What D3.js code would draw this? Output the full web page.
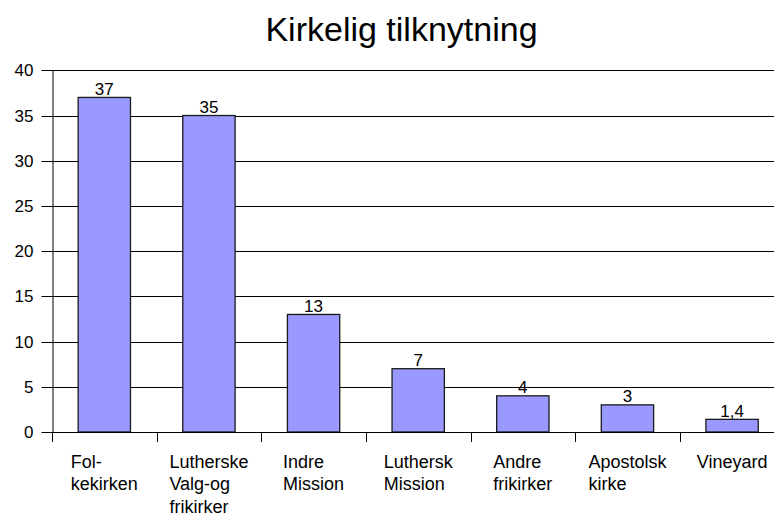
<!DOCTYPE html>
<html>
<head>
<meta charset="utf-8">
<script src="https://cdn.jsdelivr.net/npm/d3@7"></script>
<style>
  body { margin: 0; background: #fff; }
  svg { display: block; font-family: "Liberation Sans", Arial, sans-serif; }
</style>
</head>
<body>
<div id="chart"></div>
<script>
var categories = [
    ["Fol-", "kekirken"],
    ["Lutherske", "Valg-og", "frikirker"],
    ["Indre", "Mission"],
    ["Luthersk", "Mission"],
    ["Andre", "frikirker"],
    ["Apostolsk", "kirke"],
    ["Vineyard"]
];
var values = [37, 35, 13, 7, 4, 3, 1.4];
var yTicks = [0, 5, 10, 15, 20, 25, 30, 35, 40];

var width = 774, height = 513;
var margin = {top: 70.3, left: 52, bottom: 81};
var plotRight = 784.4;  // plot runs a bit past the window edge

var svg = d3.select("#chart")
    .append("svg")
        .attr("width", width)
        .attr("height", height)

var x = d3.scaleBand()
    .domain(d3.range(categories.length))
    .range([margin.left, plotRight])
    .paddingInner(0.5)
    .paddingOuter(0.25)

var y = d3.scaleLinear()
    .domain([0, 40])
    .range([432, margin.top])

var fmt = v => String(v).replace(".", ",");

// title
svg.append("text")
    .attr("x", 401.5)
    .attr("y", 40.5)
    .attr("text-anchor", "middle")
    .attr("font-size", 34)
    .text("Kirkelig tilknytning")

// gridlines
svg.append("g")
    .selectAll("line")
    .data(yTicks.filter(d => d > 0))
    .join("line")
        .attr("x1", margin.left)
        .attr("x2", width)
        .attr("y1", d => Math.round(y(d)) + 0.5)
        .attr("y2", d => Math.round(y(d)) + 0.5)
        .attr("stroke", "#000")

// y axis
var yAxis = svg.append("g")
    .attr("transform", `translate(${margin.left + 0.5},0)`)
    .call(d3.axisLeft(y).tickValues(yTicks).tickSize(11).tickPadding(8).tickSizeOuter(0))
yAxis.selectAll("text")
    .attr("font-size", 17)
    .attr("font-family", "Liberation Sans, Arial, sans-serif")
    .attr("fill", "#000")
yAxis.selectAll("line, path").attr("stroke", "#000")
yAxis.selectAll(".tick").attr("transform", d => `translate(0,${Math.round(y(d)) + 0.5})`)

// bars
svg.append("g")
    .selectAll("rect")
    .data(values)
    .join("rect")
        .attr("x", (d, i) => x(i))
        .attr("y", d => y(d))
        .attr("width", x.bandwidth())
        .attr("height", d => y(0) - y(d))
        .attr("fill", "#9999ff")
        .attr("stroke", "#1a1a1a")
        .attr("stroke-width", 1.3)

// x axis line and ticks at category boundaries
var xg = svg.append("g")
xg.append("line")
    .attr("x1", margin.left)
    .attr("x2", width)
    .attr("y1", 432.5)
    .attr("y2", 432.5)
    .attr("stroke", "#000")
xg.selectAll("line.tick")
    .data(d3.range(categories.length + 1))
    .join("line")
        .attr("class", "tick")
        .attr("x1", i => Math.round(margin.left + i * x.step()) + 0.5)
        .attr("x2", i => Math.round(margin.left + i * x.step()) + 0.5)
        .attr("y1", 432)
        .attr("y2", 442)
        .attr("stroke", "#000")

// value labels
svg.append("g")
    .selectAll("text")
    .data(values)
    .join("text")
        .attr("x", (d, i) => x(i) + x.bandwidth() / 2)
        .attr("y", d => y(d) - 2.5)
        .attr("text-anchor", "middle")
        .attr("font-size", 17)
        .text(d => fmt(d))

// category labels: left-aligned lines, block centred on the bar
var lab = svg.append("g")
    .selectAll("text")
    .data(categories)
    .join("text")
        .attr("font-size", 18)
        .attr("y", 467.7)

lab.each(function(lines, i) {
    var t = d3.select(this);
    lines.forEach((s, k) => {
        t.append("tspan")
            .attr("x", 0)
            .attr("dy", k === 0 ? 0 : 22.4)
            .text(s)
    });
    var w = d3.max(t.selectAll("tspan").nodes(), n => n.getComputedTextLength());
    var cx = x(i) + x.bandwidth() / 2;
    t.selectAll("tspan").attr("x", cx - w / 2);
})
</script>
</body>
</html>
